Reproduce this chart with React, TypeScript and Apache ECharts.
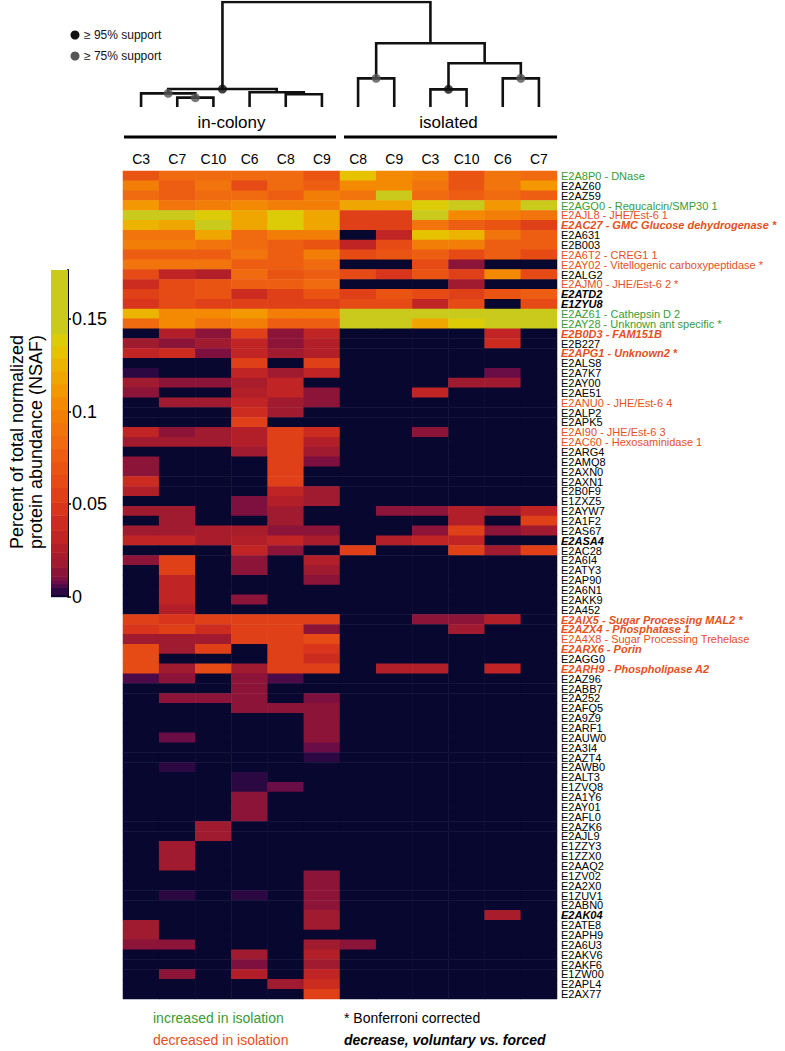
import React, { useEffect, useRef } from 'react';
import * as echarts from 'echarts';

// ---- Columns (samples) ----
const colonies = ['C3', 'C7', 'C10', 'C6', 'C8', 'C9', 'C8', 'C9', 'C3', 'C10', 'C6', 'C7'];
const columnGroup = [0, 0, 0, 0, 0, 0, 1, 1, 1, 1, 1, 1];
const groupNames = ['in-colony', 'isolated'];

// ---- Rows (proteins) ----
const proteins = [
  'E2A8P0 - DNase', 'E2AZ60', 'E2AZ59', 'E2AGQ0 - Regucalcin/SMP30 1', 'E2AJL8 - JHE/Est-6 1',
  'E2AC27 - GMC Glucose dehydrogenase *', 'E2A631', 'E2B003', 'E2A6T2 - CREG1 1',
  'E2AY02 - Vitellogenic carboxypeptidase *', 'E2ALG2', 'E2AJM0 - JHE/Est-6 2 *', 'E2ATD2', 'E1ZYU8',
  'E2AZ61 - Cathepsin D 2', 'E2AY28 - Unknown ant specific *', 'E2B0D3 - FAM151B', 'E2B227',
  'E2APG1 - Unknown2 *', 'E2ALS8', 'E2A7K7', 'E2AY00', 'E2AE51', 'E2ANU0 - JHE/Est-6 4', 'E2ALP2',
  'E2APK5', 'E2AI90 - JHE/Est-6 3', 'E2AC60 - Hexosaminidase 1', 'E2ARG4', 'E2AMQ8', 'E2AXN0',
  'E2AXN1', 'E2B0F9', 'E1ZXZ5', 'E2AYW7', 'E2A1F2', 'E2AS67', 'E2ASA4', 'E2AC28', 'E2A6I4', 'E2ATY3',
  'E2AP90', 'E2A6N1', 'E2AKK9', 'E2A452', 'E2AIX5 - Sugar Processing MAL2 *', 'E2AZX4 - Phosphatase 1',
  'E2A4X8 - Sugar Processing Trehelase', 'E2ARX6 - Porin', 'E2AGG0', 'E2ARH9 - Phospholipase A2',
  'E2AZ96', 'E2ABB7', 'E2A252', 'E2AFQ5', 'E2A9Z9', 'E2ARF1', 'E2AUW0', 'E2A3I4', 'E2AZT4', 'E2AWB0',
  'E2ALT3', 'E1ZVQ8', 'E2A1Y6', 'E2AY01', 'E2AFL0', 'E2AZK6', 'E2AJL9', 'E1ZZY3', 'E1ZZX0', 'E2AAQ2',
  'E1ZV02', 'E2A2X0', 'E1ZUV1', 'E2ABN0', 'E2AK04', 'E2ATE8', 'E2APH9', 'E2A6U3', 'E2AKV6', 'E2AKF6',
  'E1ZW00', 'E2APL4', 'E2AX77',
];
// g = increased in isolation, o = decreased, ob = decreased (voluntary vs forced), kb = bold italic, k = plain
const labelClass = [
  'g', 'k', 'k', 'g', 'o', 'ob', 'k', 'k', 'o', 'o', 'k', 'o', 'kb', 'kb', 'g', 'g', 'ob', 'k', 'ob', 'k',
  'k', 'k', 'k', 'o', 'k', 'k', 'o', 'o', 'k', 'k', 'k', 'k', 'k', 'k', 'k', 'k', 'k', 'kb', 'k', 'k',
  'k', 'k', 'k', 'k', 'k', 'ob', 'ob', 'o', 'ob', 'k', 'ob', 'k', 'k', 'k', 'k', 'k', 'k', 'k', 'k', 'k',
  'k', 'k', 'k', 'k', 'k', 'k', 'k', 'k', 'k', 'k', 'k', 'k', 'k', 'k', 'k', 'kb', 'k', 'k', 'k', 'k',
  'k', 'k', 'k', 'k',
];

// ---- NSAF values, one row per protein, columns in the order of `colonies` ----
const nsaf = [
  [0.068, 0.082, 0.082, 0.082, 0.082, 0.072, 0.131, 0.103, 0.096, 0.072, 0.089, 0.085],
  [0.096, 0.075, 0.089, 0.065, 0.082, 0.075, 0.103, 0.103, 0.089, 0.072, 0.089, 0.114],
  [0.082, 0.075, 0.082, 0.082, 0.075, 0.096, 0.089, 0.145, 0.082, 0.079, 0.082, 0.079],
  [0.114, 0.089, 0.096, 0.103, 0.096, 0.096, 0.117, 0.121, 0.138, 0.145, 0.114, 0.15],
  [0.155, 0.155, 0.14, 0.117, 0.138, 0.121, 0.056, 0.056, 0.15, 0.107, 0.096, 0.089],
  [0.126, 0.117, 0.155, 0.117, 0.138, 0.117, 0.056, 0.056, 0.089, 0.075, 0.068, 0.058],
  [0.089, 0.089, 0.117, 0.082, 0.096, 0.096, 0, 0.03, 0.131, 0.124, 0.089, 0.079],
  [0.096, 0.096, 0.089, 0.082, 0.079, 0.068, 0.035, 0.063, 0.096, 0.096, 0.075, 0.079],
  [0.075, 0.075, 0.079, 0.089, 0.075, 0.096, 0.061, 0.068, 0.079, 0.063, 0.075, 0.063],
  [0.089, 0.089, 0.089, 0.079, 0.079, 0.082, 0, 0, 0.063, 0.012, 0, 0],
  [0.061, 0.035, 0.026, 0.082, 0.068, 0.075, 0.061, 0.047, 0.068, 0.054, 0.103, 0.061],
  [0.04, 0.061, 0.068, 0.075, 0.075, 0.082, 0, 0, 0, 0.019, 0, 0],
  [0.054, 0.061, 0.068, 0.04, 0.054, 0.068, 0.054, 0.068, 0.061, 0.054, 0.068, 0.075],
  [0.047, 0.061, 0.054, 0.054, 0.054, 0.054, 0.061, 0.061, 0.033, 0.061, 0, 0.063],
  [0.124, 0.103, 0.103, 0.114, 0.096, 0.096, 0.16, 0.16, 0.16, 0.16, 0.16, 0.16],
  [0.082, 0.103, 0.089, 0.096, 0.079, 0.079, 0.16, 0.16, 0.121, 0.138, 0.16, 0.16],
  [0, 0.026, 0.014, 0.054, 0.014, 0.033, 0, 0, 0, 0, 0.033, 0],
  [0.019, 0.014, 0.019, 0.033, 0.012, 0.026, 0, 0, 0, 0, 0.04, 0],
  [0.033, 0.037, 0.01, 0.033, 0.019, 0.026, 0, 0, 0, 0, 0, 0],
  [0, 0, 0, 0.054, 0, 0.054, 0, 0, 0, 0, 0, 0],
  [0.004, 0, 0, 0.033, 0.019, 0.033, 0, 0, 0, 0, 0.008, 0],
  [0.019, 0.014, 0.014, 0.022, 0.033, 0, 0, 0, 0, 0.019, 0.019, 0],
  [0.014, 0, 0, 0.028, 0.033, 0.014, 0, 0, 0.033, 0, 0, 0],
  [0, 0.019, 0.019, 0.035, 0.019, 0.014, 0, 0, 0, 0, 0, 0],
  [0, 0, 0, 0.037, 0.019, 0, 0, 0, 0, 0, 0, 0],
  [0, 0, 0, 0.054, 0, 0, 0, 0, 0, 0, 0, 0],
  [0.033, 0.014, 0.019, 0.026, 0.054, 0.04, 0, 0, 0.014, 0, 0, 0],
  [0.019, 0.019, 0.019, 0.026, 0.058, 0.026, 0, 0, 0, 0, 0, 0],
  [0, 0, 0, 0.019, 0.054, 0.019, 0, 0, 0, 0, 0, 0],
  [0.014, 0, 0, 0, 0.058, 0.01, 0, 0, 0, 0, 0, 0],
  [0.014, 0, 0, 0, 0.056, 0, 0, 0, 0, 0, 0, 0],
  [0.04, 0, 0, 0, 0.058, 0, 0, 0, 0, 0, 0, 0],
  [0.026, 0, 0, 0, 0.033, 0.019, 0, 0, 0, 0, 0, 0],
  [0, 0, 0, 0.01, 0.026, 0.019, 0, 0, 0, 0, 0, 0],
  [0.019, 0.019, 0, 0.01, 0.019, 0, 0, 0.014, 0.014, 0.026, 0.019, 0.035],
  [0, 0.019, 0, 0, 0.019, 0, 0, 0, 0, 0.028, 0, 0.058],
  [0.019, 0.019, 0.022, 0.022, 0.014, 0.014, 0, 0, 0.014, 0.054, 0.014, 0.019],
  [0.035, 0.035, 0.022, 0.026, 0.033, 0.022, 0, 0.026, 0.033, 0.033, 0, 0],
  [0, 0, 0, 0.033, 0.014, 0, 0.054, 0, 0, 0.056, 0.019, 0.054],
  [0.014, 0.054, 0, 0.014, 0, 0.026, 0, 0, 0, 0, 0, 0],
  [0, 0.054, 0, 0.014, 0, 0.019, 0, 0, 0, 0, 0, 0],
  [0, 0.035, 0, 0, 0, 0.014, 0, 0, 0, 0, 0, 0],
  [0, 0.035, 0, 0, 0, 0, 0, 0, 0, 0, 0, 0],
  [0, 0.033, 0, 0.014, 0, 0, 0, 0, 0, 0, 0, 0],
  [0, 0.028, 0, 0, 0, 0, 0, 0, 0, 0, 0, 0],
  [0.054, 0.047, 0.054, 0.056, 0.056, 0.058, 0, 0, 0.014, 0.014, 0.026, 0],
  [0.047, 0.058, 0.04, 0.056, 0.056, 0.014, 0, 0, 0, 0.019, 0, 0],
  [0.019, 0.019, 0.019, 0.056, 0.056, 0.063, 0, 0, 0, 0, 0, 0],
  [0.061, 0.019, 0.054, 0, 0.054, 0.047, 0, 0, 0, 0, 0, 0],
  [0.061, 0, 0, 0, 0.054, 0.04, 0, 0, 0, 0, 0, 0],
  [0.061, 0.019, 0.061, 0.019, 0.054, 0.054, 0, 0.026, 0.026, 0, 0.035, 0],
  [0.005, 0.014, 0, 0.014, 0.005, 0, 0, 0, 0, 0, 0, 0],
  [0, 0, 0, 0.014, 0, 0, 0, 0, 0, 0, 0, 0],
  [0, 0.014, 0.014, 0.014, 0, 0.01, 0, 0, 0, 0, 0, 0],
  [0, 0, 0, 0.014, 0.014, 0.014, 0, 0, 0, 0, 0, 0],
  [0, 0, 0, 0, 0, 0.012, 0, 0, 0, 0, 0, 0],
  [0, 0, 0, 0, 0, 0.012, 0, 0, 0, 0, 0, 0],
  [0, 0.008, 0, 0, 0, 0.012, 0, 0, 0, 0, 0, 0],
  [0, 0, 0, 0, 0, 0.008, 0, 0, 0, 0, 0, 0],
  [0, 0, 0, 0, 0, 0.004, 0, 0, 0, 0, 0, 0],
  [0, 0.004, 0, 0, 0, 0, 0, 0, 0, 0, 0, 0],
  [0, 0, 0, 0.003, 0, 0, 0, 0, 0, 0, 0, 0],
  [0, 0, 0, 0.003, 0.008, 0, 0, 0, 0, 0, 0, 0],
  [0, 0, 0, 0.012, 0, 0, 0, 0, 0, 0, 0, 0],
  [0, 0, 0, 0.012, 0, 0, 0, 0, 0, 0, 0, 0],
  [0, 0, 0, 0.012, 0, 0, 0, 0, 0, 0, 0, 0],
  [0, 0, 0.019, 0, 0, 0, 0, 0, 0, 0, 0, 0],
  [0, 0, 0.019, 0, 0, 0, 0, 0, 0, 0, 0, 0],
  [0, 0.019, 0, 0, 0, 0, 0, 0, 0, 0, 0, 0],
  [0, 0.019, 0, 0, 0, 0, 0, 0, 0, 0, 0, 0],
  [0, 0.019, 0, 0, 0, 0, 0, 0, 0, 0, 0, 0],
  [0, 0, 0, 0, 0, 0.014, 0, 0, 0, 0, 0, 0],
  [0, 0, 0, 0, 0, 0.014, 0, 0, 0, 0, 0, 0],
  [0, 0.004, 0, 0.004, 0, 0.014, 0, 0, 0, 0, 0, 0],
  [0, 0, 0, 0, 0, 0.012, 0, 0, 0, 0, 0, 0],
  [0, 0, 0, 0, 0, 0.019, 0, 0, 0, 0, 0.022, 0],
  [0.019, 0, 0, 0, 0, 0.019, 0, 0, 0, 0, 0, 0],
  [0.019, 0, 0, 0, 0, 0, 0, 0, 0, 0, 0, 0],
  [0.014, 0.014, 0, 0, 0, 0.019, 0.014, 0, 0, 0, 0, 0],
  [0, 0, 0, 0.019, 0, 0.026, 0, 0, 0, 0, 0, 0],
  [0, 0, 0, 0.01, 0, 0.019, 0, 0, 0, 0, 0, 0],
  [0, 0.014, 0, 0.026, 0, 0.033, 0, 0, 0, 0, 0, 0],
  [0, 0, 0, 0, 0.019, 0.037, 0, 0, 0, 0, 0, 0],
  [0, 0, 0, 0, 0, 0.054, 0, 0, 0, 0, 0, 0],
];

// ---- Colour-scale tick labels and range ----
const scaleTicks = [0, 0.05, 0.1, 0.15];
const scaleMax = 0.1766;

// ---- Dendrogram merges: children are leaf column indices ("L#") or earlier merges ("M#") ----
const treeMerges = [
  { a: 'L1', b: 'L2', h: 8.9, support: 75 },   // M0
  { a: 'L0', b: 'M0', h: 13, support: 75 },    // M1
  { a: 'L4', b: 'L5', h: 12.1, support: 0 },   // M2
  { a: 'L3', b: 'M2', h: 14, support: 0 },     // M3
  { a: 'M1', b: 'M3', h: 17.1, support: 95 },  // M4
  { a: 'L6', b: 'L7', h: 27.3, support: 75 },  // M5
  { a: 'L8', b: 'L9', h: 16.8, support: 95 },  // M6
  { a: 'L10', b: 'L11', h: 27.3, support: 75 },// M7
  { a: 'M6', b: 'M7', h: 41.6, support: 0 },   // M8
  { a: 'M5', b: 'M8', h: 60.7, support: 0 },   // M9
  { a: 'M4', b: 'M9', h: 100, support: 0 },    // M10
];

// colour levels (style)
const colorLevels = [
  { from: 0, color: '#07072f' },
  { from: 0.001, color: '#2c0842' },
  { from: 0.005, color: '#4c0a48' },
  { from: 0.007, color: '#6a0c46' },
  { from: 0.009, color: '#7e1040' },
  { from: 0.011, color: '#8c1438' },
  { from: 0.016, color: '#a01a30' },
  { from: 0.021, color: '#a81c2c' },
  { from: 0.024, color: '#b21f28' },
  { from: 0.029, color: '#c02424' },
  { from: 0.036, color: '#cc2c20' },
  { from: 0.044, color: '#d8351c' },
  { from: 0.051, color: '#e04018' },
  { from: 0.059, color: '#e64a15' },
  { from: 0.066, color: '#e95413' },
  { from: 0.073, color: '#ed5e12' },
  { from: 0.08, color: '#f06a10' },
  { from: 0.087, color: '#f1740c' },
  { from: 0.094, color: '#f27e08' },
  { from: 0.101, color: '#f48a04' },
  { from: 0.108, color: '#f39800' },
  { from: 0.115, color: '#f0a600' },
  { from: 0.122, color: '#ecb400' },
  { from: 0.129, color: '#e6c200' },
  { from: 0.136, color: '#dccc08' },
  { from: 0.142, color: '#c9ca1c' },
];

const FONT = '"Liberation Sans", Arial, Helvetica, sans-serif';
const GREEN = '#3a9a35';
const ORANGE = '#e5501e';
const ROW_FONT = 11;

const HM_LEFT = 123;
const HM_RIGHT_EDGE = 557;
const HM_TOP = 171;
const HM_HEIGHT = 828;
const W = 785;
const H = 1051;

function buildOption() {
  const heatData: number[][] = [];
  nsaf.forEach((row, r) => row.forEach((v, c) => heatData.push([c, r, v])));

  const pieces = colorLevels.map((lv, i) => {
    const p: any = { gte: lv.from, color: lv.color };
    if (i < colorLevels.length - 1) p.lt = colorLevels[i + 1].from;
    return p;
  });

  const bands = colorLevels.map((lv, i) => [
    0,
    lv.from,
    i < colorLevels.length - 1 ? colorLevels[i + 1].from : scaleMax,
    i,
  ]);

  // dendrogram geometry
  const nodes: Record<string, { x: number; h: number }> = {};
  colonies.forEach((_, i) => (nodes['L' + i] = { x: i, h: 0 }));
  const treeLines: any[] = [];
  const dots95: number[][] = [];
  const dots75: number[][] = [];
  treeMerges.forEach((m, i) => {
    const A = nodes[m.a];
    const B = nodes[m.b];
    const x = (A.x + B.x) / 2;
    nodes['M' + i] = { x, h: m.h };
    treeLines.push({ coords: [[A.x, A.h], [A.x, m.h], [B.x, m.h], [B.x, B.h]] });
    if (m.support >= 95) dots95.push([x, m.h]);
    else if (m.support >= 75) dots75.push([x, m.h]);
  });

  const colW = (HM_RIGHT_EDGE - HM_LEFT) / colonies.length;
  const groupCenter = (g: number) => {
    const idx = columnGroup.map((v, i) => (v === g ? i : -1)).filter((i) => i >= 0);
    return HM_LEFT + ((idx[0] + idx[idx.length - 1] + 1) / 2) * colW;
  };
  const groupSpan = (g: number) => {
    const idx = columnGroup.map((v, i) => (v === g ? i : -1)).filter((i) => i >= 0);
    return [HM_LEFT + idx[0] * colW, HM_LEFT + (idx[idx.length - 1] + 1) * colW];
  };
  const s0 = groupSpan(0);
  const s1 = groupSpan(1);

  const labelStyle = (extra: any) => ({ fontFamily: FONT, fontSize: ROW_FONT, lineHeight: 9, ...extra });

  return {
    animation: false,
    backgroundColor: '#ffffff',
    grid: [
      { left: HM_LEFT, right: W - HM_RIGHT_EDGE, top: HM_TOP, height: HM_HEIGHT },
      { left: HM_LEFT, right: W - HM_RIGHT_EDGE, top: 2, height: 105 },
      { left: 51, width: 17, top: 270, height: 326.7 },
    ],
    xAxis: [
      {
        type: 'category',
        gridIndex: 0,
        position: 'top',
        data: colonies.map((c, i) => groupNames[columnGroup[i]] + '|' + c),
        axisLine: { show: false },
        axisTick: { show: false },
        axisLabel: {
          formatter: (v: string) => v.split('|')[1],
          fontFamily: FONT,
          fontSize: 14,
          color: '#000',
          margin: 5,
        },
      },
      { type: 'value', gridIndex: 1, min: -0.5, max: 11.5, show: false },
      { type: 'category', gridIndex: 2, data: ['scale'], show: false },
    ],
    yAxis: [
      {
        type: 'category',
        gridIndex: 0,
        inverse: true,
        position: 'right',
        data: proteins,
        axisLine: { show: false },
        axisTick: { show: false },
        axisLabel: {
          interval: 0,
          margin: 4,
          fontFamily: FONT,
          fontSize: ROW_FONT,
          lineHeight: 9,
          formatter: (v: string, i: number) => `{${labelClass[i]}|${v}}`,
          rich: {
            k: labelStyle({ color: '#000' }),
            kb: labelStyle({ color: '#000', fontWeight: 'bold', fontStyle: 'italic' }),
            g: labelStyle({ color: GREEN }),
            o: labelStyle({ color: ORANGE }),
            ob: labelStyle({ color: ORANGE, fontWeight: 'bold', fontStyle: 'italic' }),
          },
        },
      },
      { type: 'value', gridIndex: 1, min: 0, max: 100, show: false },
      {
        type: 'value',
        gridIndex: 2,
        position: 'right',
        min: 0,
        max: scaleMax,
        interval: 0.05,
        splitLine: { show: false },
        axisLine: { show: true, lineStyle: { color: '#000', width: 2 } },
        axisTick: { show: true, length: 3, lineStyle: { color: '#000', width: 1.5 }, customValues: scaleTicks },
        axisLabel: {
          customValues: scaleTicks,
          fontFamily: FONT,
          fontSize: 18,
          color: '#000',
          margin: 4,
        },
      },
    ],
    visualMap: {
      type: 'piecewise',
      show: false,
      seriesIndex: 0,
      dimension: 2,
      pieces,
    },
    series: [
      {
        type: 'heatmap',
        xAxisIndex: 0,
        yAxisIndex: 0,
        data: heatData,
        itemStyle: { borderWidth: 0 },
        emphasis: { disabled: true },
      },
      {
        type: 'lines',
        coordinateSystem: 'cartesian2d',
        xAxisIndex: 1,
        yAxisIndex: 1,
        polyline: true,
        silent: true,
        lineStyle: { color: '#111', width: 2.6, opacity: 1 },
        data: treeLines,
      },
      {
        type: 'scatter',
        xAxisIndex: 1,
        yAxisIndex: 1,
        symbolSize: 9,
        itemStyle: { color: '#111' },
        data: dots95,
        z: 5,
      },
      {
        type: 'scatter',
        xAxisIndex: 1,
        yAxisIndex: 1,
        symbolSize: 9,
        itemStyle: { color: '#555' },
        data: dots75,
        z: 5,
      },
      {
        type: 'custom',
        xAxisIndex: 2,
        yAxisIndex: 2,
        encode: { x: 0, y: [1, 2] },
        data: bands,
        renderItem: (params: any, api: any) => {
          const lo = api.value(1);
          const hi = api.value(2);
          const ci = api.value(3);
          const p0 = api.coord([0, lo]);
          const p1 = api.coord([0, hi]);
          const w = api.size([1, 0])[0];
          return {
            type: 'rect',
            shape: { x: p0[0] - w / 2, y: p1[1], width: w, height: p0[1] - p1[1] + 0.5 },
            style: { fill: colorLevels[ci].color },
          };
        },
      },
    ],
    graphic: [
      { type: 'circle', shape: { cx: 75, cy: 35, r: 4.5 }, style: { fill: '#111' } },
      {
        type: 'text',
        x: 84,
        y: 35,
        style: { text: '≥ 95% support', font: `12px ${FONT}`, fill: '#111', verticalAlign: 'middle' },
      },
      { type: 'circle', shape: { cx: 75, cy: 56, r: 4.5 }, style: { fill: '#555' } },
      {
        type: 'text',
        x: 84,
        y: 56,
        style: { text: '≥ 75% support', font: `12px ${FONT}`, fill: '#111', verticalAlign: 'middle' },
      },
      {
        type: 'text',
        x: groupCenter(0),
        y: 122,
        style: { text: groupNames[0], font: `17px ${FONT}`, fill: '#000', align: 'center', verticalAlign: 'middle' },
      },
      {
        type: 'text',
        x: groupCenter(1),
        y: 122,
        style: { text: groupNames[1], font: `17px ${FONT}`, fill: '#000', align: 'center', verticalAlign: 'middle' },
      },
      {
        type: 'line',
        shape: { x1: s0[0] + 1, y1: 137, x2: s0[1] - 4, y2: 137 },
        style: { stroke: '#000', lineWidth: 3 },
      },
      {
        type: 'line',
        shape: { x1: s1[0] + 4, y1: 137, x2: s1[1], y2: 137 },
        style: { stroke: '#000', lineWidth: 3 },
      },
      {
        type: 'text',
        x: 26,
        y: 442,
        rotation: Math.PI / 2,
        style: {
          text: 'Percent of total normalized\nprotein abundance (NSAF)',
          font: `18px ${FONT}`,
          lineHeight: 19,
          fill: '#000',
          align: 'center',
          verticalAlign: 'middle',
        },
      },
      {
        type: 'text',
        x: 153,
        y: 1018,
        style: { text: 'increased in isolation', font: `14px ${FONT}`, fill: GREEN, verticalAlign: 'middle' },
      },
      {
        type: 'text',
        x: 153,
        y: 1040,
        style: { text: 'decreased in isolation', font: `14px ${FONT}`, fill: ORANGE, verticalAlign: 'middle' },
      },
      {
        type: 'text',
        x: 344,
        y: 1018,
        style: { text: '* Bonferroni corrected', font: `14px ${FONT}`, fill: '#000', verticalAlign: 'middle' },
      },
      {
        type: 'text',
        x: 344,
        y: 1040,
        style: {
          text: 'decrease, voluntary vs. forced',
          font: `italic bold 14px ${FONT}`,
          fill: '#000',
          verticalAlign: 'middle',
        },
      },
    ],
  };
}

export default function App() {
  const ref = useRef<HTMLDivElement>(null);
  useEffect(() => {
    if (!ref.current) return;
    const chart = echarts.init(ref.current, undefined, { renderer: 'svg', width: W, height: H });
    chart.setOption(buildOption() as any);
    return () => chart.dispose();
  }, []);
  return (
    <div
      ref={ref}
      style={{ position: 'absolute', left: 0, top: 0, width: W, height: H, background: '#fff' }}
    />
  );
}
